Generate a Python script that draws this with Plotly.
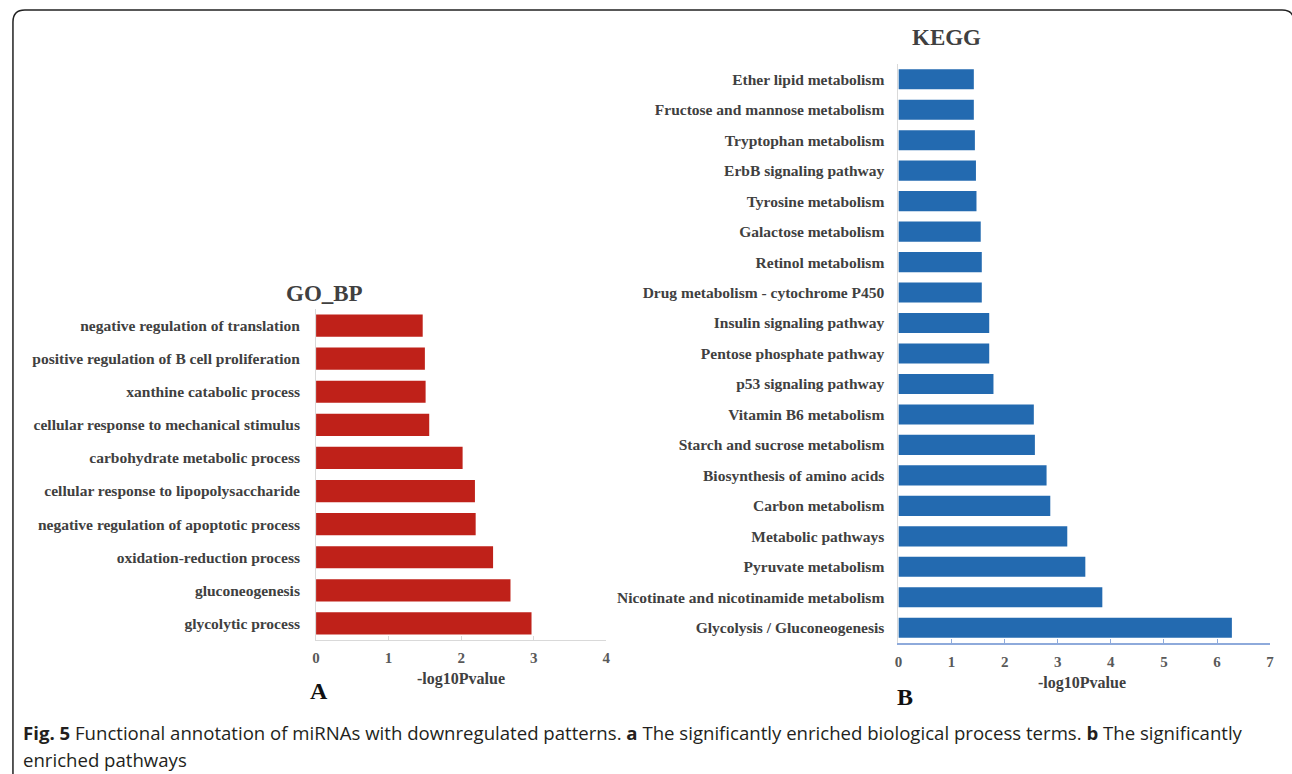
import plotly.graph_objects as go

W, H = 1292, 774

# ---------------- data ----------------
go_terms = [
    "negative regulation of translation",
    "positive regulation of B cell proliferation",
    "xanthine catabolic process",
    "cellular response to mechanical stimulus",
    "carbohydrate metabolic process",
    "cellular response to lipopolysaccharide",
    "negative regulation of apoptotic process",
    "oxidation-reduction process",
    "gluconeogenesis",
    "glycolytic process",
]
go_values = [1.47, 1.50, 1.51, 1.56, 2.02, 2.19, 2.20, 2.44, 2.68, 2.97]

kegg_terms = [
    "Ether lipid metabolism",
    "Fructose and mannose metabolism",
    "Tryptophan metabolism",
    "ErbB signaling pathway",
    "Tyrosine metabolism",
    "Galactose metabolism",
    "Retinol metabolism",
    "Drug metabolism - cytochrome P450",
    "Insulin signaling pathway",
    "Pentose phosphate pathway",
    "p53 signaling pathway",
    "Vitamin B6 metabolism",
    "Starch and sucrose metabolism",
    "Biosynthesis of amino acids",
    "Carbon metabolism",
    "Metabolic pathways",
    "Pyruvate metabolism",
    "Nicotinate and nicotinamide metabolism",
    "Glycolysis / Gluconeogenesis",
]
kegg_values = [1.42, 1.42, 1.44, 1.46, 1.47, 1.55, 1.57, 1.57, 1.71, 1.71,
               1.79, 2.55, 2.57, 2.79, 2.86, 3.18, 3.52, 3.84, 6.28]

go_ticks = [0, 1, 2, 3, 4]
kegg_ticks = [0, 1, 2, 3, 4, 5, 6, 7]

# ---------------- helpers ----------------
def px(x):
    return x / W

def py(y):
    return 1 - y / H

SERIF = "Liberation Serif, Times New Roman, serif"
TXT = "#404040"

fig = go.Figure()

fig.add_trace(go.Bar(
    x=go_values, y=go_terms, orientation="h",
    marker=dict(color="#BF2119", line=dict(width=0)),
    width=0.67, xaxis="x", yaxis="y", showlegend=False,
))
fig.add_trace(go.Bar(
    x=kegg_values, y=kegg_terms, orientation="h",
    marker=dict(color="#236AB0", line=dict(width=0)),
    width=0.66, xaxis="x2", yaxis="y2", showlegend=False,
))

tickfont = dict(family=SERIF, size=15, color="#595959", weight="bold")
labfont = dict(family=SERIF, size=15.5, color=TXT, weight="bold")

fig.update_layout(
    width=W, height=H,
    margin=dict(l=0, r=0, t=0, b=0),
    paper_bgcolor="white", plot_bgcolor="white",
    xaxis=dict(
        domain=[px(314), px(606)], range=[0, 4], tickvals=go_ticks,
        showgrid=False, zeroline=False, showline=True, linecolor="#d9d9d9",
        linewidth=1, ticks="inside", ticklen=4, tickcolor="#d9d9d9",
        tickfont=tickfont, anchor="y", ticklabelstandoff=4,
    ),
    yaxis=dict(
        domain=[py(640), py(309)], range=[len(go_terms) - 0.5, -0.5],
        type="category", showgrid=False, zeroline=False, showline=True,
        linecolor="#d9d9d9", linewidth=1, ticks="", anchor="x",
        ticklabelstandoff=12, tickfont=labfont,
    ),
    xaxis2=dict(
        domain=[px(900), px(1274)], range=[0, 7], tickvals=kegg_ticks,
        showgrid=False, zeroline=False, showline=True, linecolor="#8EAADB",
        linewidth=1.5, ticks="inside", ticklen=4, tickcolor="#8EAADB",
        tickfont=tickfont, anchor="y2", ticklabelstandoff=4,
    ),
    yaxis2=dict(
        domain=[py(643), py(64)], range=[len(kegg_terms) - 0.5, -0.5],
        type="category", showgrid=False, zeroline=False, showline=True,
        linecolor="#d9d9d9", linewidth=1, ticks="", anchor="x2",
        ticklabelstandoff=10, tickfont=labfont,
    ),
)

ann = []
def add_text(x, y, text, size, family=SERIF, color=TXT):
    ann.append(dict(
        x=px(x), y=py(y), xref="paper", yref="paper", text=f"<b>{text}</b>",
        showarrow=False, xanchor="center", yanchor="middle",
        font=dict(family=family, size=size, color=color),
    ))

add_text(322, 293, "GO_BP", 23)
add_text(948, 37, "KEGG", 23)
add_text(460, 679, "-log10Pvalue", 16)
add_text(1085, 683, "-log10Pvalue", 16)
add_text(317, 691, "A", 24, color="#111111")
add_text(907, 697, "B", 24, color="#111111")

CAP = "Open Sans, Liberation Sans, sans-serif"
ann.append(dict(
    x=px(17), y=py(732), xref="paper", yref="paper", showarrow=False,
    xanchor="left", yanchor="middle", align="left",
    text="<b>Fig. 5</b> Functional annotation of miRNAs with downregulated patterns. <b>a</b> "
         "The significantly enriched biological process terms. <b>b</b> The significantly",
    font=dict(family=CAP, size=18.6, color="#231F20"),
))
ann.append(dict(
    x=px(17), y=py(759), xref="paper", yref="paper", showarrow=False,
    xanchor="left", yanchor="middle", align="left",
    text="enriched pathways",
    font=dict(family=CAP, size=18.6, color="#231F20"),
))
fig.update_layout(annotations=ann)

# rounded border
def P(x, y):
    return f"{px(x):.5f},{py(y):.5f}"

path = (f"M {P(9, 780)} L {P(9, 22)} Q {P(9, 10)} {P(21, 10)} "
        f"L {P(1286, 10)} Q {P(1298, 10)} {P(1298, 22)} L {P(1298, 780)}")
fig.add_shape(type="path", path=path, xref="paper", yref="paper",
              line=dict(color="#222222", width=1.5))

fig.write_html(
    "out.html",
    config={"displayModeBar": False},
    post_script="document.body.style.margin='0';document.body.style.overflow='hidden';",
)
